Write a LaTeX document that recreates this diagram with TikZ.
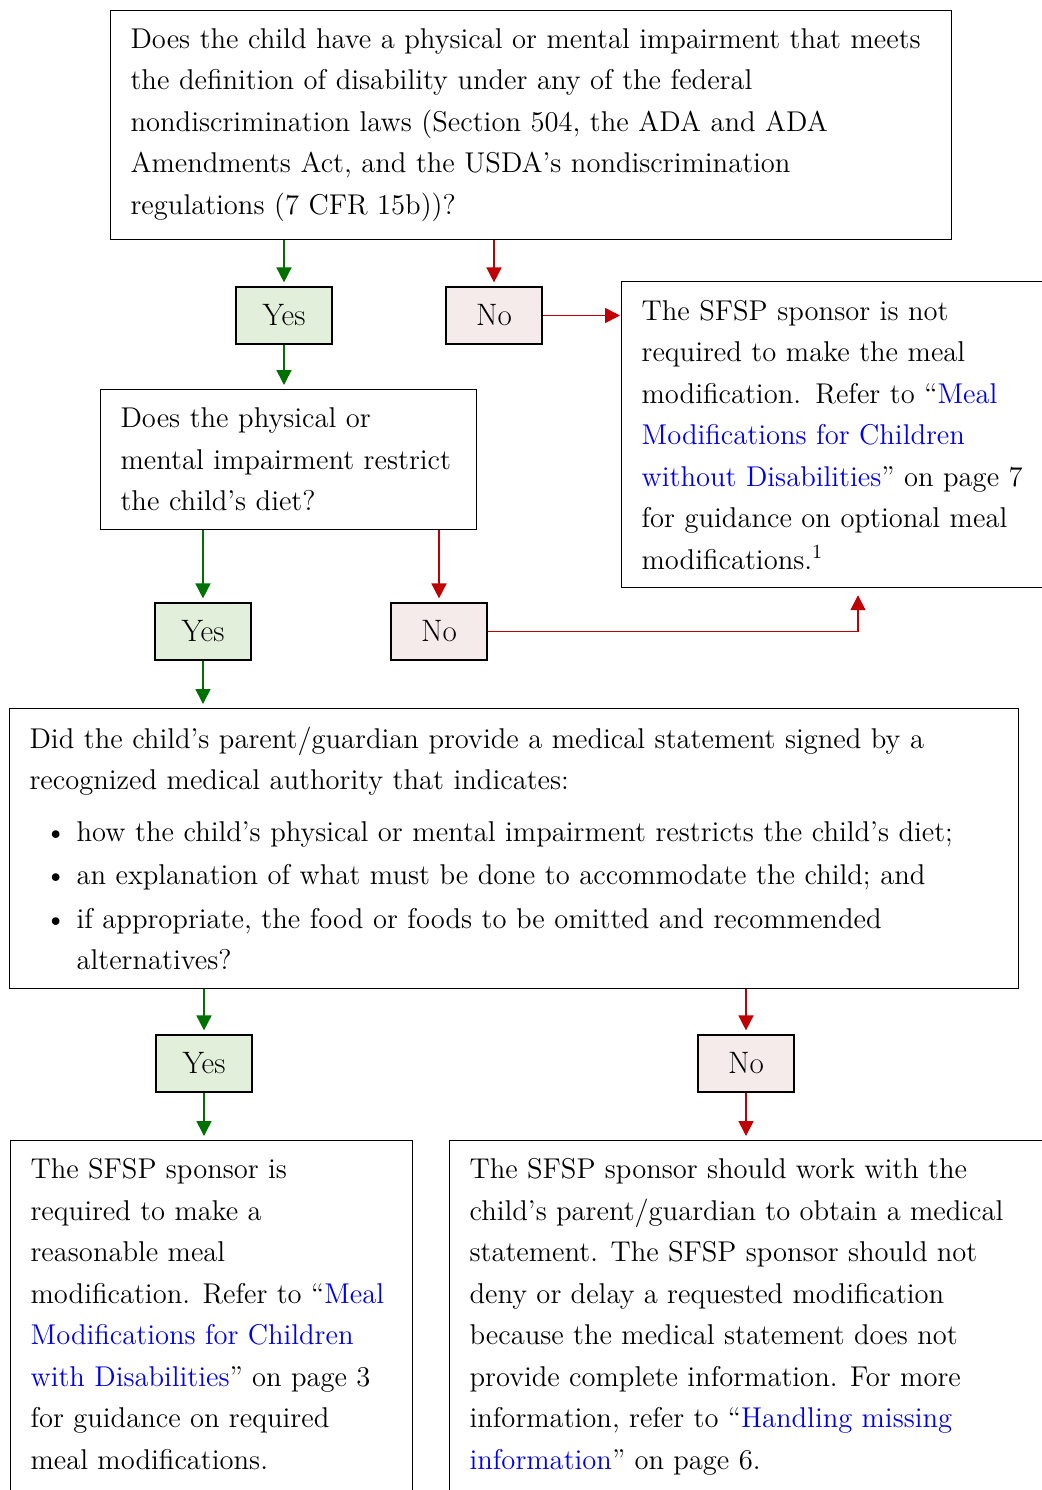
\documentclass[tikz,border=0pt]{standalone}
\usepackage{fontspec}
\usepackage{xcolor}
\usepackage{tikz}
\usetikzlibrary{arrows.meta, positioning, calc}
\definecolor{ygreen}{HTML}{007000}
\definecolor{nred}{HTML}{C00000}
\definecolor{yfill}{HTML}{E2EFDA}
\definecolor{nfill}{HTML}{F6EBEB}
\definecolor{lblue}{HTML}{0000F0}
\newcommand{\lnk}[1]{\textcolor{lblue}{#1}}

\begin{document}
\begin{tikzpicture}[x=0.5pt, y=-0.5pt,
  txt/.style={font=\fontsize{14.3}{20.75}\selectfont},
  qbox/.style={txt, draw, line width=0.6pt, anchor=north west, inner xsep=10pt, align=left},
  tallbox/.style={txt, draw, line width=0.6pt, anchor=north west, inner xsep=10pt, inner ysep=9pt},
  ansbox/.style={font=\fontsize{15.5}{18}\selectfont, draw, line width=0.6pt, minimum width=48pt, minimum height=28.5pt, inner sep=0pt},
  yesbox/.style={ansbox, fill=yfill},
  nobox/.style={ansbox, fill=nfill},
  yesarrow/.style={draw=ygreen, line width=0.8pt, -{Triangle[length=7.5pt, width=7.5pt]}, shorten >=2pt},
  noarrow/.style={draw=nred, line width=0.8pt, -{Triangle[length=7.5pt, width=7.5pt]}, shorten >=2pt}]
\useasboundingbox (0,0) rectangle (1042,1490);
\clip (0,0) rectangle (1042,1490);
\fill[white] (0,0) rectangle (1042,1490);
% first question
\node[qbox, text width=400.5pt, minimum height=114.5pt] (q1) at (110,10)
  {Does the child have a physical or mental impairment that meets\\
   the definition of disability under any of the federal\\
   nondiscrimination laws (Section 504, the ADA and ADA\\
   Amendments Act, and the USDA’s nondiscrimination\\
   regulations (7 CFR 15b))?};
\node[yesbox] (yes1) at (284,315.5) {Yes};
\node[nobox] (no1) at (494,315.5) {No};
\node[qbox, text width=215pt, minimum height=153pt] (r1) at (621,281)
  {The SFSP sponsor is not\\
   required to make the meal\\
   modification. Refer to “\lnk{Meal}\\
   \lnk{Modifications for Children}\\
   \lnk{without Disabilities}” on page 7\\
   for guidance on optional meal\\
   modifications.\textsuperscript{1}};
% second question
\node[qbox, text width=168pt, minimum height=70pt] (q2) at (100,389)
  {Does the physical or\\
   mental impairment restrict\\
   the child’s diet?};
\node[yesbox] (yes2) at (203,631.5) {Yes};
\node[nobox] (no2) at (439,631.5) {No};
% third question
\node[qbox, text width=484.5pt, minimum height=140pt] (q3) at (9,708)
  {Did the child’s parent/guardian provide a medical statement signed by a\\
   recognized medical authority that indicates:\\[5pt]
   \makebox[23.5pt][r]{\textbullet\hspace{5pt}}how the child’s physical or mental impairment restricts the child’s diet;\\[1pt]
   \makebox[23.5pt][r]{\textbullet\hspace{5pt}}an explanation of what must be done to accommodate the child; and\\[1pt]
   \makebox[23.5pt][r]{\textbullet\hspace{5pt}}if appropriate, the food or foods to be omitted and recommended\\
   \hspace*{23.5pt}alternatives?};
\node[yesbox] (yes3) at (204,1063.5) {Yes};
\node[nobox] (no3) at (746,1063.5) {No};
% outcomes
\node[tallbox] (r3) at (10,1140)
  {\begin{minipage}[t][190pt][t]{181pt}\raggedright
   The SFSP sponsor is\\
   required to make a\\
   reasonable meal\\
   modification. Refer to “\lnk{Meal}\\
   \lnk{Modifications for Children}\\
   \lnk{with Disabilities}” on page 3\\
   for guidance on required\\
   meal modifications.
   \end{minipage}};
\node[tallbox] (r4) at (449,1140)
  {\begin{minipage}[t][190pt][t]{290pt}\raggedright
   The SFSP sponsor should work with the\\
   child’s parent/guardian to obtain a medical\\
   statement. The SFSP sponsor should not\\
   deny or delay a requested modification\\
   because the medical statement does not\\
   provide complete information. For more\\
   information, refer to “\lnk{Handling missing}\\
   \lnk{information}” on page 6.
   \end{minipage}};
% connectors
\draw[yesarrow] (q1.south -| yes1) -- (yes1);
\draw[noarrow] (q1.south -| no1) -- (no1);
\draw[noarrow, shorten >=0.5pt] (no1) -- (no1 -| r1.west);
\draw[yesarrow] (yes1) -- (yes1 |- q2.north);
\draw[yesarrow] (q2.south -| yes2) -- (yes2);
\draw[noarrow] (q2.south -| no2) -- (no2);
\draw[noarrow, shorten >=3.5pt] (no2) -| ([xshift=118.5pt]r1.south west);
\draw[yesarrow] (yes2) -- (yes2 |- q3.north);
\draw[yesarrow] (q3.south -| yes3) -- (yes3);
\draw[noarrow] (q3.south -| no3) -- (no3);
\draw[yesarrow] (yes3) -- (yes3 |- r3.north);
\draw[noarrow] (no3) -- (no3 |- r4.north);
\end{tikzpicture}
\end{document}
